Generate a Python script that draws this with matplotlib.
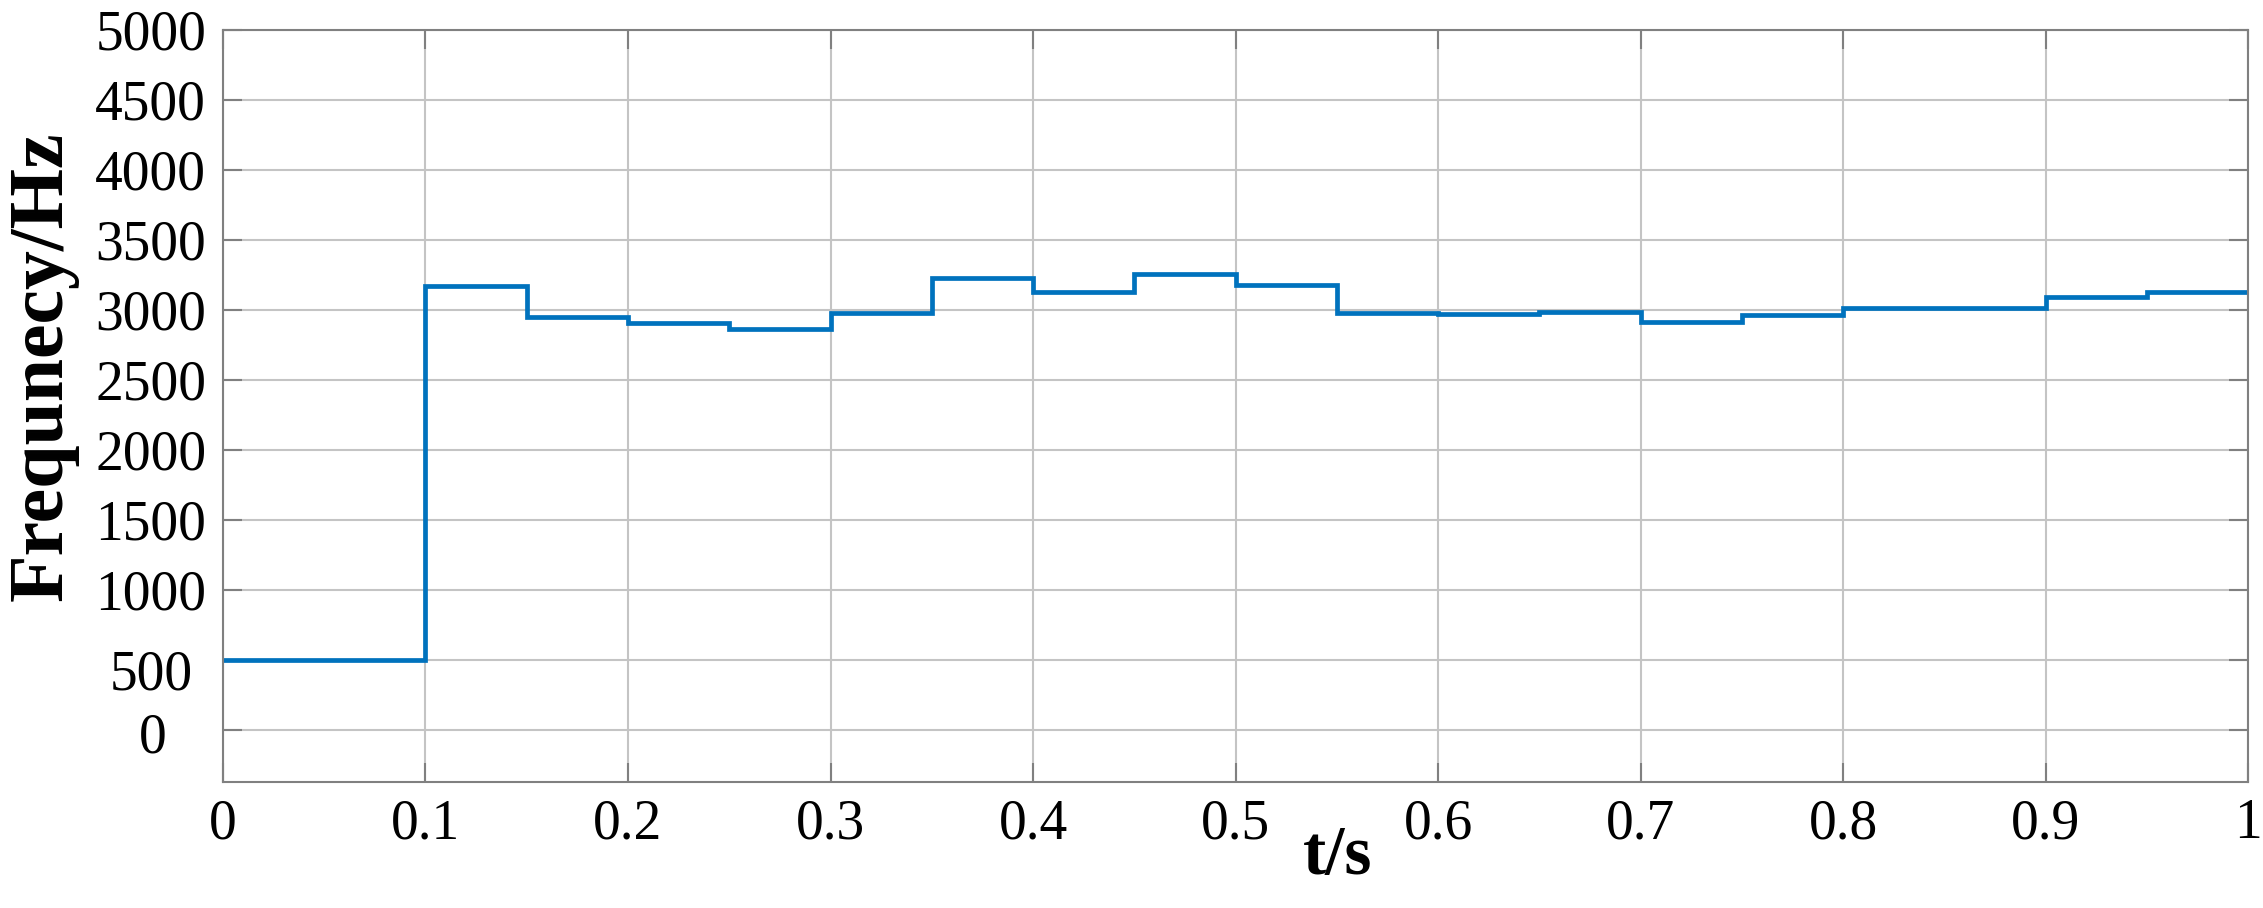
import matplotlib
matplotlib.use("Agg")
import matplotlib.pyplot as plt
import matplotlib.transforms as mtransforms

# step edges (s) and frequency held on each interval (Hz)
t_edges = [0, 0.1, 0.15, 0.2, 0.25, 0.3, 0.35, 0.4, 0.45, 0.5, 0.55,
           0.6, 0.65, 0.7, 0.75, 0.8, 0.9, 0.95, 1.0]
freq = [500, 3170, 2950, 2905, 2862, 2976, 3226, 3131, 3257, 3179,
        2981, 2969, 2983, 2912, 2964, 3012, 3090, 3131]

xticks = [0, 0.1, 0.2, 0.3, 0.4, 0.5, 0.6, 0.7, 0.8, 0.9, 1]
xticklabels = ["0", "0.1", "0.2", "0.3", "0.4", "0.5", "0.6", "0.7", "0.8", "0.9", "1"]
yticks = [0, 500, 1000, 1500, 2000, 2500, 3000, 3500, 4000, 4500, 5000]

plt.rcParams["font.family"] = ["Liberation Serif", "DejaVu Serif"]

fig = plt.figure(figsize=(22.63, 9.08), dpi=100)
ax = fig.add_axes([0.0985, 0.139, 0.895, 0.828])

ax.stairs(freq, t_edges, baseline=None, color="#0072BD", lw=3.4)

ax.set_xlim(0, 1)
ax.set_ylim(-370, 5000)
ax.set_xticks(xticks)
ax.set_xticklabels(xticklabels)
ax.set_yticks(yticks)

ax.grid(True, color="#c4c4c4", lw=1.5)
ax.set_axisbelow(True)
for s in ax.spines.values():
	s.set_color("#808080")
	s.set_linewidth(1.5)
ax.tick_params(direction="in", length=14, width=1.5, color="#808080",
               top=True, right=True, labelsize=40, pad=12)

# the "500" and "0" labels sit a bit off in the original
for lab in ax.get_yticklabels():
	if lab.get_text() == "500":
		lab.set_transform(lab.get_transform() + mtransforms.ScaledTranslation(-0.13, -0.10, fig.dpi_scale_trans))
	elif lab.get_text() == "0":
		lab.set_transform(lab.get_transform() + mtransforms.ScaledTranslation(-0.40, -0.03, fig.dpi_scale_trans))

fig.text(0.591, 0.056, "t/s", fontsize=50, fontweight="bold", ha="center", va="center")
fig.text(0.019, 0.597, "Frequnecy/Hz", fontsize=56, fontweight="bold",
         rotation=90, ha="center", va="center")

fig.savefig("out.png", dpi=100, facecolor="white")
